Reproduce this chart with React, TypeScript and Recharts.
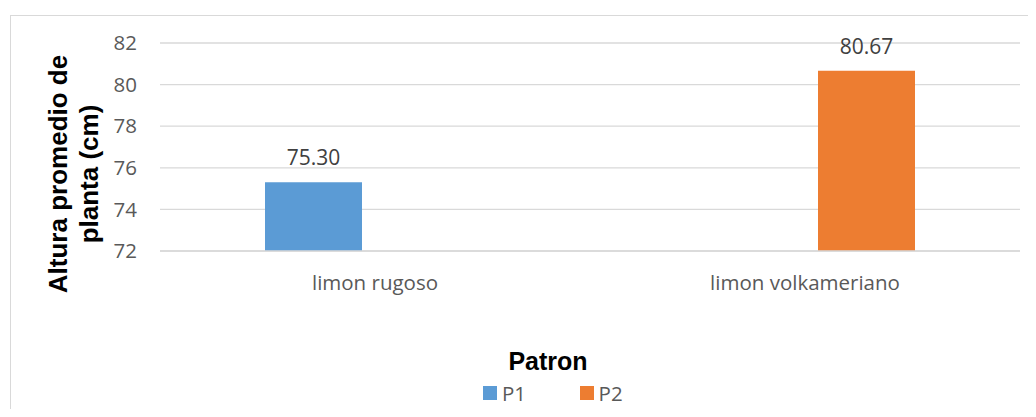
import React from "react";
import {
  BarChart,
  Bar,
  XAxis,
  YAxis,
  CartesianGrid,
  Legend,
  LabelList,
} from "recharts";

const categories = ["limon rugoso", "limon volkameriano"];
const p1Values = [75.3, null];
const p2Values = [null, 80.67];
const yTicks = [72, 74, 76, 78, 80, 82];

const seriesNames = ["P1", "P2"];
const colors = ["#5B9BD5", "#ED7D31"];

const data = categories.map((name, i) => ({
  name,
  P1: p1Values[i],
  P2: p2Values[i],
}));

const tickFont = { fontFamily: "Open Sans", fontSize: 20.5, fill: "#595959" };

const fmt = (v: any) => (v == null ? "" : Number(v).toFixed(2));

function YTitle() {
  return (
    <g>
      <text
        x={67}
        y={174}
        transform="rotate(-90, 67, 174)"
        textAnchor="middle"
        style={{ fontFamily: "Liberation Sans", fontWeight: 700, fontSize: 26, fill: "#000" }}
      >
        Altura promedio de
      </text>
      <text
        x={98}
        y={174}
        transform="rotate(-90, 98, 174)"
        textAnchor="middle"
        style={{ fontFamily: "Liberation Sans", fontWeight: 700, fontSize: 26, fill: "#000" }}
      >
        planta (cm)
      </text>
    </g>
  );
}

function renderLegend(props: any) {
  const items = seriesNames.map((n, i) => ({ value: n, color: colors[i] }));
  return (
    <div style={{ height: 71, width: 1036 }}>
      <div
        style={{
          textAlign: "center",
          paddingLeft: 60,
          fontFamily: "Liberation Sans",
          fontWeight: 700,
          fontSize: 25,
          lineHeight: "30px",
          color: "#000",
        }}
      >
        Patron
      </div>
      <div style={{ display: "flex", marginLeft: 483, marginTop: 7 }}>
        {items.map((it) => (
          <div
            key={it.value}
            style={{
              display: "flex",
              alignItems: "center",
              width: 96.6,
              height: 20.5,
            }}
          >
            <span
              style={{
                display: "inline-block",
                width: 14,
                height: 14,
                background: it.color,
                marginRight: 5,
              }}
            />
            <span
              style={{
                fontFamily: "Open Sans",
                fontSize: 20.5,
                lineHeight: "20.5px",
                color: "#595959",
              }}
            >
              {it.value}
            </span>
          </div>
        ))}
      </div>
    </div>
  );
}

export default function App() {
  return (
    <div
      style={{
        position: "relative",
        width: 1036,
        height: 417,
        margin: -8,
        overflow: "hidden",
        background: "#fff",
      }}
    >
      <div
        style={{
          position: "absolute",
          left: 10,
          top: 15,
          width: 1100,
          height: 500,
          border: "1px solid #d9d9d9",
        }}
      />
      <div style={{ position: "absolute", left: 0, top: 0 }}>
        <BarChart
          width={1036}
          height={417}
          data={data}
          margin={{ top: 43, right: 16, bottom: 0, left: 0 }}
          barCategoryGap={105}
          barGap={26}
        >
          <CartesianGrid vertical={false} stroke="#d9d9d9" strokeWidth={1.3} />
          <XAxis
            dataKey="name"
            height={95}
            tickSize={0}
            tickMargin={24}
            tick={tickFont}
            axisLine={{ stroke: "#d9d9d9", strokeWidth: 1.3 }}
            tickLine={false}
          />
          <YAxis
            width={160}
            domain={[72, 82]}
            ticks={yTicks}
            tickSize={0}
            tickMargin={23}
            tick={tickFont}
            axisLine={false}
            tickLine={false}
            label={<YTitle />}
          />
          <Legend
            verticalAlign="bottom"
            content={renderLegend}
            wrapperStyle={{ left: 0, width: 1036 }}
          />
          {seriesNames.map((n, i) => (
            <Bar key={n} dataKey={n} fill={colors[i]} isAnimationActive={false}>
              <LabelList
                dataKey={n}
                position="top"
                offset={17}
                formatter={fmt}
                style={{ fontFamily: "Open Sans", fontSize: 21, fill: "#404040" }}
              />
            </Bar>
          ))}
        </BarChart>
      </div>
    </div>
  );
}
